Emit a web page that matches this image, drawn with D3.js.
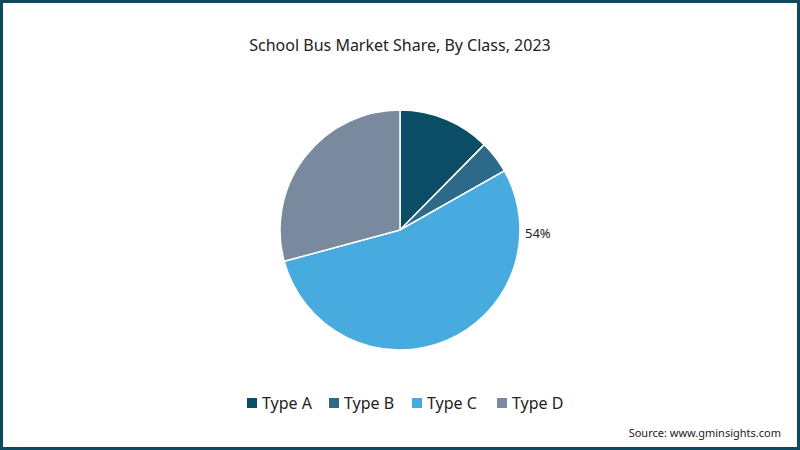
<!DOCTYPE html>
<html>
<head>
<meta charset="utf-8">
<script src="https://cdn.jsdelivr.net/npm/d3@7"></script>
<style>
body{margin:0;padding:0;background:#fff;}
svg{display:block;}
</style>
</head>
<body>
<div id="chart"></div>
<script>
let categories = ["Type A","Type B","Type C","Type D"];
let shares = [12.4, 4.4, 54, 29.2];
let sliceColors = ["#0b4d64","#2d6a89","#47abe0","#7a8a9e"];
let shownLabels = ["","","54%",""];
let chartTitle = "School Bus Market Share, By Class, 2023";
let sourceText = "Source: www.gminsights.com";

let width = 800;
let height = 450;
let cx = 400, cy = 230, radius = 120;
let fontFam = "'Source Sans Pro','Noto Sans',sans-serif";

let svg = d3.select("#chart")
    .append("svg")
    .attr("width", width)
    .attr("height", height);

// background + frame
svg.append("rect")
    .attr("x", 1.5).attr("y", 1.5)
    .attr("width", width-3).attr("height", height-3)
    .attr("fill", "#ffffff")
    .attr("stroke", "#0d4a5f")
    .attr("stroke-width", 3);

svg.append("text")
    .attr("x", 400).attr("y", 51)
    .attr("text-anchor", "middle")
    .attr("font-family", fontFam)
    .attr("font-size", "16px")
    .attr("fill", "#222")
    .text(chartTitle);

let pie = d3.pie().sort(null).value(d => d);
let arc = d3.arc().innerRadius(0).outerRadius(radius);
let arcs = pie(shares);

let g = svg.append("g").attr("transform", "translate(" + cx + "," + cy + ")");
g.selectAll("path")
    .data(arcs)
    .enter()
    .append("path")
    .attr("d", arc)
    .attr("fill", (d,i) => sliceColors[i])
    .attr("stroke", "#ffffff")
    .attr("stroke-width", 1.5);

// label sits at the point of the slice closest to the right side (3 o'clock)
function labelAngle(d) {
    return Math.max(d.startAngle, Math.min(d.endAngle, Math.PI / 2));
}
g.selectAll("text.lbl")
    .data(arcs)
    .enter()
    .append("text")
    .attr("class", "lbl")
    .attr("x", d => Math.sin(labelAngle(d)) * (radius + 5))
    .attr("y", d => -Math.cos(labelAngle(d)) * (radius + 5) + 8)
    .attr("text-anchor", "start")
    .attr("font-family", fontFam)
    .attr("font-size", "13px")
    .attr("fill", "#222")
    .text((d,i) => shownLabels[i]);

// legend
let legendX = [247, 329, 412, 497];
let legend = svg.append("g");
categories.forEach(function(c, i){
    legend.append("rect")
        .attr("x", legendX[i]).attr("y", 398)
        .attr("width", 10).attr("height", 10)
        .attr("fill", sliceColors[i]);
    legend.append("text")
        .attr("x", legendX[i] + 15).attr("y", 409)
        .attr("font-family", fontFam)
        .attr("font-size", "16px")
        .attr("fill", "#222")
        .text(c);
});

svg.append("text")
    .attr("x", 781).attr("y", 437)
    .attr("text-anchor", "end")
    .attr("font-family", fontFam)
    .attr("font-size", "11px")
    .attr("fill", "#222")
    .text(sourceText);
</script>
</body>
</html>
